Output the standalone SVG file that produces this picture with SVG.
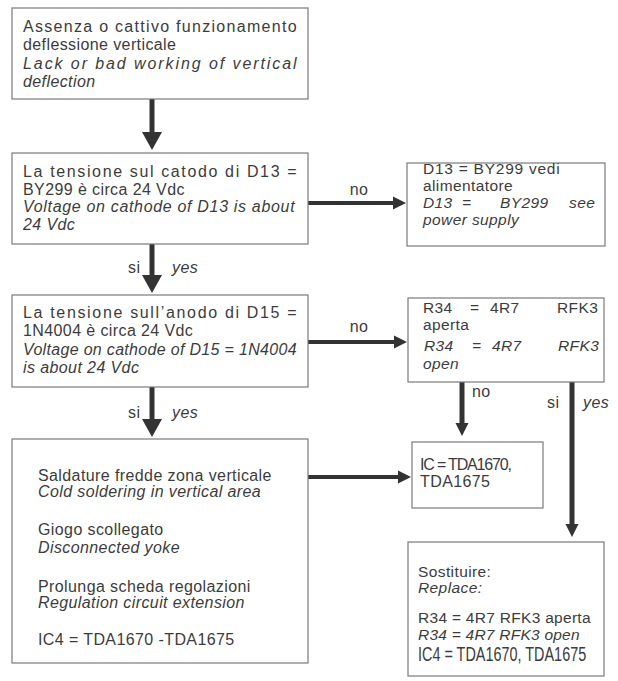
<svg xmlns="http://www.w3.org/2000/svg" width="618" height="681" viewBox="0 0 618 681">
<style>
  .box{fill:#fff;stroke:#7a7a7a;stroke-width:1.2}
  text{font-family:"Liberation Sans",Arial,sans-serif;font-size:16px;fill:#3c3c3c;letter-spacing:0.4px}
  .r{font-size:15.5px}
  .i{font-style:italic}
  .big{stroke:#333;stroke-width:5;fill:none}
  .sm{stroke:#333;stroke-width:4;fill:none}
</style>
<defs>
  <marker id="hb" markerUnits="userSpaceOnUse" markerWidth="20" markerHeight="22" viewBox="0 -11 20 22" refX="1" refY="0" orient="auto">
    <path d="M0,-10 L18,0 L0,10 z" fill="#333"/>
  </marker>
  <marker id="hs" markerUnits="userSpaceOnUse" markerWidth="14" markerHeight="14" viewBox="0 -7 14 14" refX="1" refY="0" orient="auto">
    <path d="M0,-6.5 L13,0 L0,6.5 z" fill="#333"/>
  </marker>
</defs>
<rect width="618" height="681" fill="#fff"/>

<g id="connectors">
  <line class="big" x1="152" y1="99" x2="152" y2="133" marker-end="url(#hb)"/>
  <line class="big" x1="152" y1="244" x2="152" y2="276" marker-end="url(#hb)"/>
  <line class="big" x1="152" y1="387" x2="152" y2="420" marker-end="url(#hb)"/>
  <line class="sm" x1="308" y1="203" x2="394" y2="203" marker-end="url(#hs)"/>
  <line class="sm" x1="308" y1="342" x2="395" y2="342" marker-end="url(#hs)"/>
  <line class="sm" x1="308" y1="477" x2="399" y2="477" marker-end="url(#hs)"/>
  <line class="big" x1="462" y1="382" x2="462" y2="424" marker-end="url(#hs)"/>
  <line class="big" x1="572" y1="382" x2="572" y2="525" marker-end="url(#hs)"/>
  <text x="359" y="195" text-anchor="middle">no</text>
  <text x="359" y="332" text-anchor="middle">no</text>
  <text x="128" y="273">si</text>
  <text x="172" y="273" class="i">yes</text>
  <text x="128" y="418">si</text>
  <text x="172" y="418" class="i">yes</text>
  <text x="472" y="397">no</text>
  <text x="547" y="408">si</text>
  <text x="583" y="408" class="i">yes</text>
</g>

<g id="start">
  <rect class="box" x="12" y="8" width="296" height="91"/>
  <text x="23" y="32" textLength="274" lengthAdjust="spacing">Assenza o cattivo funzionamento</text>
  <text x="23" y="50">deflessione verticale</text>
  <text x="23" y="69" class="i" textLength="274" lengthAdjust="spacing">Lack or bad working of vertical</text>
  <text x="23" y="87" class="i">deflection</text>
</g>

<g id="q1">
  <rect class="box" x="12" y="153" width="296" height="91"/>
  <text x="23" y="177" textLength="274" lengthAdjust="spacing">La tensione sul catodo di D13 =</text>
  <text x="23" y="195">BY299 è circa 24 Vdc</text>
  <text x="23" y="212" class="i" textLength="272" lengthAdjust="spacing">Voltage on cathode of D13 is about</text>
  <text x="23" y="230" class="i">24 Vdc</text>
</g>

<g id="power">
  <rect class="box" x="407" y="163" width="198" height="83"/>
  <text x="423" y="174" class="r" textLength="137" lengthAdjust="spacing">D13 = BY299 vedi</text>
  <text x="423" y="191" class="r">alimentatore</text>
  <text y="208" class="r i"><tspan x="423">D13</tspan><tspan x="462">=</tspan><tspan x="500">BY299</tspan><tspan x="569">see</tspan></text>
  <text x="423" y="225" class="r i">power supply</text>
</g>

<g id="q2">
  <rect class="box" x="12" y="295" width="296" height="92"/>
  <text x="23" y="318" textLength="274" lengthAdjust="spacing">La tensione sull’anodo di D15 =</text>
  <text x="23" y="336">1N4004 è circa 24 Vdc</text>
  <text x="23" y="355" class="i" textLength="274" lengthAdjust="spacing">Voltage on cathode of D15 = 1N4004</text>
  <text x="23" y="373" class="i">is about 24 Vdc</text>
</g>

<g id="r34">
  <rect class="box" x="408" y="298" width="196" height="84"/>
  <text y="313" class="r"><tspan x="423">R34</tspan><tspan x="470">=</tspan><tspan x="490">4R7</tspan><tspan x="557">RFK3</tspan></text>
  <text x="423" y="330" class="r">aperta</text>
  <text y="351" class="r i"><tspan x="424">R34</tspan><tspan x="472">=</tspan><tspan x="492">4R7</tspan><tspan x="558">RFK3</tspan></text>
  <text x="423" y="369" class="r i">open</text>
</g>

<g id="checks">
  <rect class="box" x="12" y="439" width="296" height="224"/>
  <text x="38" y="481">Saldature fredde zona verticale</text>
  <text x="38" y="497" class="i">Cold soldering in vertical area</text>
  <text x="38" y="535">Giogo scollegato</text>
  <text x="38" y="553" class="i">Disconnected yoke</text>
  <text x="38" y="592">Prolunga scheda regolazioni</text>
  <text x="38" y="608" class="i">Regulation circuit extension</text>
  <text x="38" y="645">IC4 = TDA1670 -TDA1675</text>
</g>

<g id="ic">
  <rect class="box" x="412" y="442" width="131" height="66"/>
  <text x="420" y="470" style="letter-spacing:0" textLength="92" lengthAdjust="spacing">IC = TDA1670,</text>
  <text x="420" y="487">TDA1675</text>
</g>

<g id="replace">
  <rect class="box" x="408" y="542" width="196" height="134"/>
  <text x="418" y="577" class="r">Sostituire:</text>
  <text x="418" y="593" class="r i">Replace:</text>
  <text x="418" y="623" class="r" textLength="173" lengthAdjust="spacing">R34 = 4R7 RFK3 aperta</text>
  <text x="418" y="640" class="r i" textLength="162" lengthAdjust="spacing">R34 = 4R7 RFK3 open</text>
  <text transform="translate(418,661) scale(0.74,1)" x="0" y="0" style="font-size:19.5px;letter-spacing:0">IC4 = TDA1670, TDA1675</text>
</g>
</svg>
